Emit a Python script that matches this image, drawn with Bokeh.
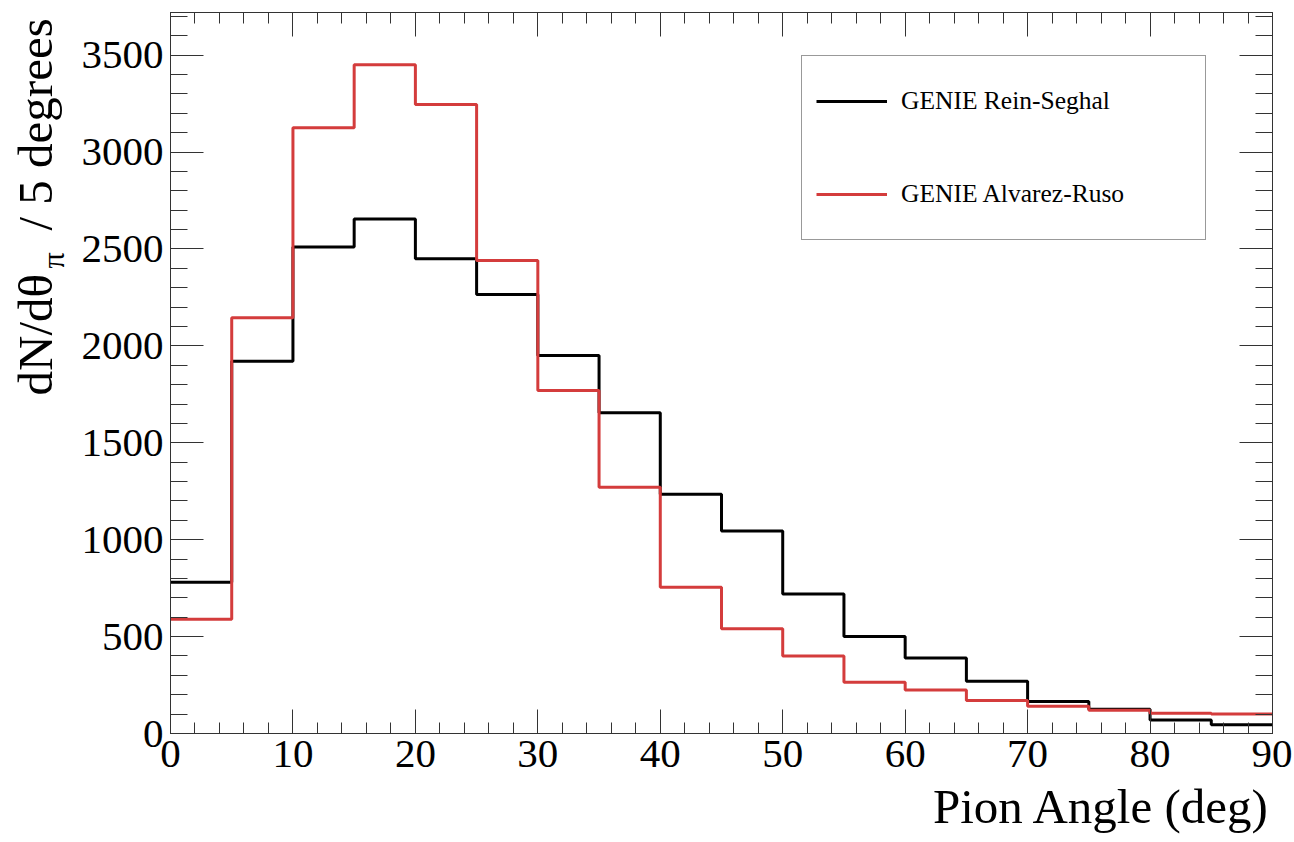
import math
from bokeh.plotting import figure
from bokeh.layouts import row, column
from bokeh.models import (Range1d, LinearAxis, SingleIntervalTicker, Legend,
                          LegendItem, Label)
from bokeh.embed import file_html
from bokeh.resources import INLINE

# ---- data ----
bin_edges = [0, 5, 10, 15, 20, 25, 30, 35, 40, 45, 50, 55, 60, 65, 70, 75, 80, 85, 90]
rein_seghal = [780, 1920, 2510, 2655, 2450, 2265, 1950, 1655, 1235, 1045,
               720, 500, 390, 270, 165, 125, 70, 45]
alvarez_ruso = [590, 2145, 3125, 3450, 3245, 2440, 1770, 1270, 755, 540,
                400, 265, 225, 170, 140, 120, 105, 100]
series_names = ["GENIE Rein-Seghal", "GENIE Alvarez-Ruso"]
x_title = "Pion Angle (deg)"
y_title_parts = ["dN/d\u03b8", "\u03c0", "/ 5 degrees"]

FONT = "Liberation Serif"
AX = "#333333"
RED = "#d43c3c"

TOTAL_W = 1292
TW = 70            # strip holding the y title
PW = TOTAL_W - TW  # main plot
PH = 790
B_OVERLAP = 22     # x-title strip is pulled up over the (empty) bottom border
BH = 50 + B_OVERLAP
MID = 0.3375       # baseline offset from the text box centre, in em

# ---------------- main plot ----------------
p = figure(width=PW, height=PH, output_backend="svg", toolbar_location=None,
           x_range=Range1d(0, 90), y_range=Range1d(0, 3720),
           min_border_left=100, min_border_right=TOTAL_W - 1272,
           min_border_top=12, min_border_bottom=PH - 733,
           x_axis_location=None, y_axis_location=None)
p.outline_line_color = AX
p.outline_line_width = 1
p.grid.visible = False
p.background_fill_color = "white"
p.border_fill_color = "white"


def make_axis(interval, n_minor, major_in, minor_in, labels):
    ax = LinearAxis(ticker=SingleIntervalTicker(interval=interval, num_minor_ticks=n_minor))
    ax.major_tick_in = major_in
    ax.major_tick_out = 0
    ax.minor_tick_in = minor_in
    ax.minor_tick_out = 0
    ax.axis_line_color = AX
    ax.major_tick_line_color = AX
    ax.minor_tick_line_color = AX
    ax.major_tick_line_width = 1
    ax.minor_tick_line_width = 1
    if labels:
        ax.major_label_text_font = FONT
        ax.major_label_text_font_size = "41px"
        ax.major_label_text_color = "black"
        ax.major_label_standoff = 7
    else:
        ax.major_label_text_font_size = "1px"
        ax.major_label_text_color = None
        ax.major_label_standoff = 0
    return ax


p.add_layout(make_axis(10, 5, 24, 11, True), "below")
p.add_layout(make_axis(10, 5, 24, 11, False), "above")
p.add_layout(make_axis(500, 5, 33, 17, True), "left")
p.add_layout(make_axis(500, 5, 33, 17, False), "right")

r_black = p.step(x=bin_edges, y=rein_seghal + [rein_seghal[-1]], mode="after",
                 line_color="black", line_width=3)
r_red = p.step(x=bin_edges, y=alvarez_ruso + [alvarez_ruso[-1]], mode="after",
               line_color=RED, line_width=3)

legend = Legend(items=[LegendItem(label=series_names[0], renderers=[r_black]),
                       LegendItem(label=series_names[1], renderers=[r_red])],
                location=(631, 493), orientation="vertical",
                glyph_width=71, glyph_height=62, label_standoff=14,
                label_width=290, padding=14, spacing=31, margin=0,
                border_line_color=AX, border_line_width=1,
                background_fill_color="white", background_fill_alpha=1,
                label_text_font=FONT, label_text_font_size="25.5px",
                label_text_color="black")
p.add_layout(legend)

# ---------------- y title strip (canvas pixel positions) ----------------
t = figure(width=TW, height=PH, output_backend="svg", toolbar_location=None,
           x_range=Range1d(0, TW), y_range=Range1d(0, PH), min_border=0,
           x_axis_location=None, y_axis_location=None)
t.outline_line_color = None
t.grid.visible = False


def ylab(text, base_x, start_y, size):
    return Label(x=base_x - MID * size, y=start_y, x_units="canvas", y_units="canvas",
                 text=text, angle=math.pi / 2, text_align="left",
                 text_baseline="middle", text_font=FONT,
                 text_font_size=f"{size}px", text_color="black")


t.add_layout(ylab(y_title_parts[0], 52, 395, 49))
t.add_layout(ylab(y_title_parts[1], 63, 268, 32))
t.add_layout(ylab(y_title_parts[2], 52, 230, 49))

# ---------------- x title strip ----------------
b = figure(width=TOTAL_W, height=BH, output_backend="svg", toolbar_location=None,
           x_range=Range1d(0, TOTAL_W), y_range=Range1d(0, BH), min_border=0,
           x_axis_location=None, y_axis_location=None)
b.outline_line_color = None
b.grid.visible = False
b.background_fill_color = None
b.border_fill_color = None
b.margin = (-B_OVERLAP, 0, 0, 0)
b_top = PH - B_OVERLAP
b.add_layout(Label(x=1270, y=823 - MID * 49 - b_top, x_units="canvas", y_units="canvas",
                   text=x_title, text_align="right", text_baseline="middle",
                   text_font=FONT, text_font_size="49px", text_color="black"))

layout = column(row(t, p, spacing=0), b, spacing=0)
open("out.html", "w").write(file_html(layout, INLINE))
